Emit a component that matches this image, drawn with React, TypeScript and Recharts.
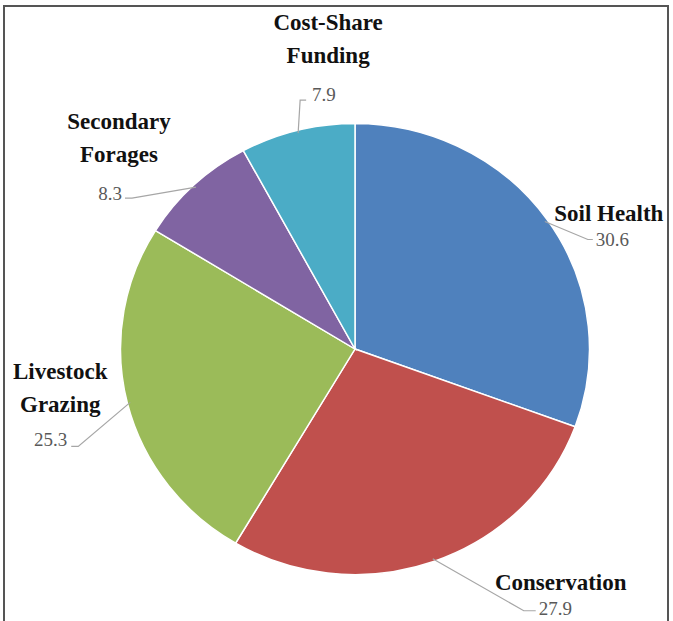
import { Cell, Pie, PieChart } from "recharts";

const categories = [
	"Soil Health",
	"Conservation",
	"Livestock Grazing",
	"Secondary Forages",
	"Cost-Share Funding",
];
const values = [30.6, 27.9, 25.3, 8.3, 7.9];
const nameLines = [
	["Soil Health"],
	["Conservation"],
	["Livestock", "Grazing"],
	["Secondary", "Forages"],
	["Cost-Share", "Funding"],
];
const colors = ["#4f81bd", "#c0504d", "#9bbb59", "#8064a2", "#4bacc6"];

const data = categories.map((name, i) => ({ name, value: values[i] }));

// the source picture is a bit squashed vertically
const SQUASH = 0.962;
const TOP = -40; // chart box starts above the page so nothing is clipped
const CX = 355;
const CY = 389;

// label layout in screen px: elbow relative to slice edge, texts relative to elbow
const layout = [
	{ elbow: [43, 18], tick: 5, val: [8, 6], name: [21, -19] },
	{ elbow: [91, 52], tick: 12, val: [15, 4], name: [37, -21] },
	{ elbow: [-52, 44], tick: -7, val: [-11, 0], name: [-18, -67] },
	{ elbow: [-64, 11], tick: -7, val: [-10, 2], name: [-13, -69] },
	{ elbow: [2, -33], tick: 6, val: [12, 1], name: [28, -70] },
];

const RAD = Math.PI / 180;
const FONT = "Liberation Serif";

function renderLabel(props: any) {
	const { cx, cy, midAngle, outerRadius, index } = props;
	const l = layout[index];
	const up = (y: number) => cy + (y - cy) / SQUASH; // screen y -> chart y
	const ex = cx + (outerRadius - 3) * Math.cos(-midAngle * RAD);
	const eyChart = cy + (outerRadius - 3) * Math.sin(-midAngle * RAD);
	const ey = cy + (eyChart - cy) * SQUASH;
	const bx = ex + l.elbow[0];
	const by = ey + l.elbow[1];
	const tx = bx + l.tick;
	const right = l.tick > 0;
	return (
		<g key={"lbl" + index}>
			<polyline
				points={`${ex},${eyChart} ${bx},${up(by)} ${tx},${up(by)}`}
				fill="none"
				stroke="#a6a6a6"
				strokeWidth={1.2}
			/>
			<text
				x={bx + l.val[0]}
				y={up(by + l.val[1])}
				textAnchor={right ? "start" : "end"}
				fill="#595959"
				fontSize={19}
				fontFamily={FONT}
				style={{ fontFamily: FONT }}
			>
				{values[index]}
			</text>
			{nameLines[index].map((t, j) => (
				<text
					key={j}
					x={bx + l.name[0]}
					y={up(by + l.name[1] + j * 33)}
					textAnchor="middle"
					fill="#111"
					fontSize={23}
					fontWeight="bold"
					fontFamily={FONT}
					style={{ fontFamily: FONT }}
				>
					{t}
				</text>
			))}
		</g>
	);
}

export default function App() {
	return (
		<div
			style={{
				position: "absolute",
				left: 0,
				top: 0,
				width: 673,
				height: 621,
				background: "#fff",
				overflow: "hidden",
			}}
		>
			<div
				style={{
					position: "absolute",
					left: 3,
					top: 5,
					width: 662,
					height: 616,
					borderTop: "2px solid #555",
					borderLeft: "2px solid #555",
					borderRight: "2px solid #555",
				}}
			/>
			<div
				style={{
					position: "absolute",
					left: 0,
					top: TOP,
					transform: `scale(1, ${SQUASH})`,
					transformOrigin: `${CX}px ${CY}px`,
				}}
			>
				<PieChart
					width={673}
					height={720}
					margin={{ top: 0, right: 0, bottom: 0, left: 0 }}
				>
					<Pie
						data={data}
						dataKey="value"
						nameKey="name"
						cx={CX}
						cy={CY}
						outerRadius={234.5}
						startAngle={90}
						endAngle={-270}
						stroke="#fff"
						strokeWidth={1.5}
						label={renderLabel}
						labelLine={false}
						isAnimationActive={false}
					>
						{data.map((d, i) => (
							<Cell key={d.name} fill={colors[i]} />
						))}
					</Pie>
				</PieChart>
			</div>
		</div>
	);
}
